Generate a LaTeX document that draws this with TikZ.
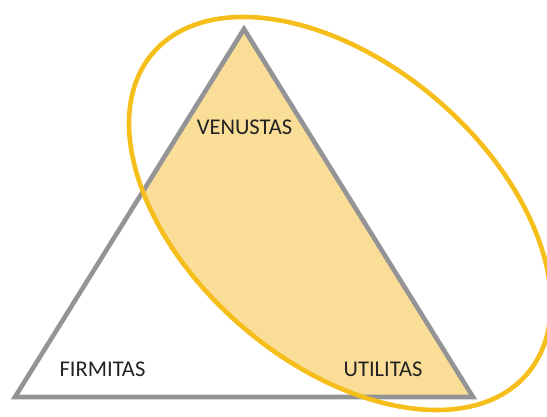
\documentclass[tikz,border=0pt]{standalone}
\usepackage{fontspec}
\setmainfont{Carlito}
\definecolor{triGray}{HTML}{949496}
\definecolor{ellGold}{HTML}{F6BE1A}
\definecolor{ellFill}{HTML}{FADD97}
\definecolor{txtDark}{HTML}{222222}
\tikzset{
  lbl/.style={inner sep=0pt, text=txtDark, font=\fontsize{22.5}{26}\selectfont},
  triline/.style={draw=triGray, line width=4.6pt, line join=miter},
  ellline/.style={draw=ellGold, line width=4.6pt}
}
\begin{document}
\begin{tikzpicture}[x=1pt,y=1pt]
\useasboundingbox (0,0) rectangle (547,417);
\clip (0,0) rectangle (547,417);
\coordinate (A) at (244,388);
\coordinate (B) at (15,20);
\coordinate (C) at (473,20);
\coordinate (E) at (340,203.5);
\begin{scope}
  \clip (A) -- (B) -- (C) -- cycle;
  \fill[ellFill, rotate around={-40.6:(E)}] (E) ellipse [x radius=246.5, y radius=149.5];
\end{scope}
\draw[triline] (A) -- (B) -- (C) -- cycle;
\draw[ellline, rotate around={-40.6:(E)}] (E) ellipse [x radius=246.5, y radius=149.5];
\node[lbl] (ven) at (244.5,290) {VENUSTAS};
\node[lbl] (fir) at (102.5,48) {FIRMITAS};
\node[lbl] (uti) at (383,48) {UTILITAS};
\end{tikzpicture}
\end{document}
